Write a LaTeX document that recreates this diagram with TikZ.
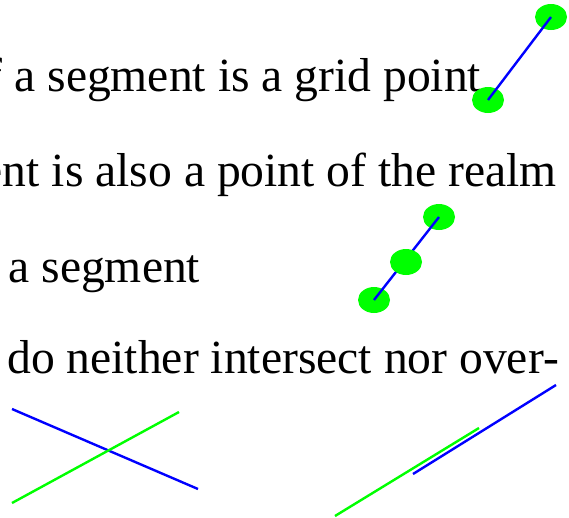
\documentclass[tikz,border=0pt]{standalone}
\usepackage{fontspec}
\setmainfont{Liberation Serif}
\usepackage{tikz}
\usetikzlibrary{shapes.geometric, positioning}
\definecolor{segblue}  {RGB}{0,   0,   255}
\definecolor{ptgreen}  {RGB}{0,   255, 0}

\begin{document}
\begin{tikzpicture}[x=1pt,y=-1pt,
		txt/.style={inner sep=0pt, anchor=base west, font=\fontsize{47.6}{57}\selectfont},
		gridpt/.style={ellipse, fill=ptgreen, inner sep=0pt, minimum width=32pt, minimum height=26pt},
		segb/.style={line width=2.4pt, segblue},
		segg/.style={line width=2.4pt, ptgreen}]
	\clip (0,0) rectangle (569,517);
	% the text, cut at the left edge
	\node[txt] (l1) at (-13.5,91) {f a segment is a grid point};
	\node[txt, anchor=base east] (l2) at (557,186) {ent is also a point of the realm};
	\node[txt] (l3) at (8.3,282) {a segment};
	\node[txt, anchor=base east] (l4) at (559,373) {do neither intersect nor over-};
	% end points on the grid
	\node[gridpt] (ea) at (551,17) {}; \node[gridpt] (eb) at (488,100) {};
	\draw[segb] (ea.center) -- (eb.center);
	% a point of the segment
	\node[gridpt] (ma) at (439,217) {}; \node[gridpt] (mc) at (374,300) {};
	\draw[segb] (ma.center) -- (mc.center);
	\node[gridpt] (mb) at (406,262) {};
	% crossing segments
	\coordinate (xa) at (12,409); \coordinate (xb) at (198,489);
	\coordinate (xc) at (12,503); \coordinate (xd) at (179,412);
	\draw[segb] (xa) -- (xb); \draw[segg] (xc) -- (xd);
	% overlapping segments
	\coordinate (oa) at (413,474); \coordinate (ob) at (556,385);
	\coordinate (oc) at (335,516); \coordinate (od) at (479,428);
	\draw[segb] (oa) -- (ob); \draw[segg] (oc) -- (od);
\end{tikzpicture}
\end{document}
